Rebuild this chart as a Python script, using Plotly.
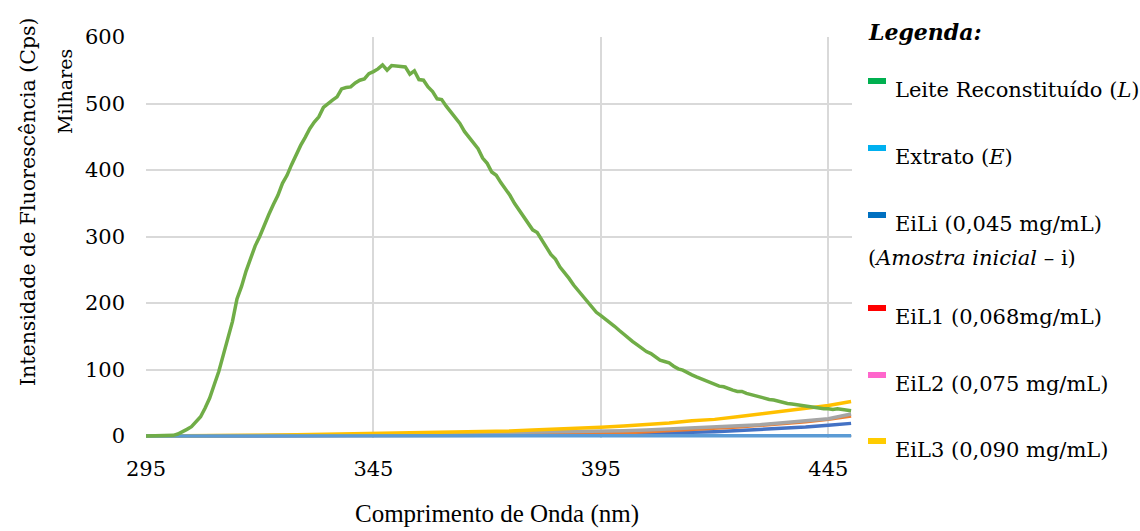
import plotly.graph_objects as go

# Emission spectra, 1 nm steps for the milk sample
wavelength_fine = list(range(295, 451))
leite = [
    0, 0, 0, 0, 0, 0, 1, 3, 6, 10,            # 295-304
    14, 21, 29, 42, 57, 77, 97, 122, 147, 172,  # 305-314
    206, 225, 248, 268, 286, 300, 318, 333, 348, 362,  # 315-324
    380, 392, 408, 424, 437, 449, 462, 472, 480, 494,  # 325-334
    500, 505, 510, 522, 524, 525, 531, 535, 537, 545,  # 335-344
    548, 552, 558, 550, 557, 556, 555, 555, 544, 549,  # 345-354
    536, 535, 525, 518, 507, 506, 496, 487, 480, 470,  # 355-364
    458, 450, 441, 432, 418, 410, 397, 392, 381, 372,  # 365-374
    362, 350, 340, 330, 318, 310, 306, 294, 284, 273,  # 375-384
    266, 254, 246, 237, 227, 219, 210, 204, 194, 186,  # 385-394
    181, 176, 170, 165, 159, 153, 147, 142, 137, 132,  # 395-404
    127, 124, 119, 114, 112, 110, 105, 101, 99, 95,    # 405-414
    92, 89, 86, 84, 80, 77, 75, 74, 71, 69,            # 415-424
    67, 67, 64, 62, 60, 58, 57, 55, 54, 52,            # 425-434
    51, 49, 48, 47, 46, 45, 44, 42, 41, 41,            # 435-444
    41, 40, 41, 40, 39, 38,                            # 445-450
]

# Extract and diluted samples, 5 nm steps
wavelength_coarse = list(range(295, 451, 5))
extrato = [0, 0, 0, 0, 0, 0, 0, 0, 0, 0, 0, 0, 0, 0, 0, 0,
           0, 0, 0, 0, 0, 0, 0, 0, 0, 0, 0, 0, 0, 0, 1, 0.5]
eili = [0, 0, 0, 0, 0.5, 0.5, 1, 1, 1, 1, 1.5, 1.5, 1.5, 1.5, 1.5, 1.5,
        1.5, 1.5, 2, 2, 2.5, 3, 3.5, 4.5, 5.5, 6.5, 8, 9.5, 11, 13.5, 16, 19]
eil1 = [0, 0, 0, 0, 0, 0, 0, 0, 0, 0, 0, 0, 0, 0, 0.5, 1,
        1.5, 2, 2.5, 3, 4, 5, 6.5, 8, 10, 11.5, 13.5, 16, 18.5, 21.5, 25, 30]
eil2 = [0, 0, 0, 0, 0.5, 0.5, 1, 1, 1, 1.5, 2, 2, 2.5, 3, 3.5, 4,
        4.5, 5, 5.5, 6.5, 7, 8, 9, 10.5, 11.5, 13, 15, 17, 20, 23, 26, 33]
eil3 = [0, 0, 0, 0.5, 1, 1, 1.5, 2, 2.5, 3, 3.5, 4, 4.5, 5, 5.5, 6.5,
        7.5, 9, 10, 11.5, 13, 15, 17, 19.5, 23, 25, 29, 33, 37, 42, 46, 52]

x_ticks = [295, 345, 395, 445]
y_ticks = [0, 100, 200, 300, 400, 500, 600]

# Drawing order: the milk spectrum ends up on top
series = [
    ("EiLi", eili, "#4472C4", wavelength_coarse),
    ("EiL1", eil1, "#ED7D31", wavelength_coarse),
    ("EiL2", eil2, "#A5A5A5", wavelength_coarse),
    ("EiL3", eil3, "#FFC000", wavelength_coarse),
    ("Extrato", extrato, "#5B9BD5", wavelength_coarse),
    ("Leite", leite, "#70AD47", wavelength_fine),
]

# Custom legend box entries (label, swatch colour, text row centre px)
legend_rows = [
    ("Leite Reconstituído (<i>L</i>)", "#00B050", 90),
    ("Extrato (<i>E</i>)", "#00B0F0", 157),
    ("EiLi (0,045 mg/mL)", "#0070C0", 224),
    ("EiL1 (0,068mg/mL)", "#FF0000", 317),
    ("EiL2 (0,075 mg/mL)", "#FF66CC", 384),
    ("EiL3 (0,090 mg/mL)", "#FFCC00", 450),
]

W, H = 1140, 531
L, R, T, B = 146, 852, 37, 438
SERIF = "DejaVu Serif"


def px(x):
    return (x - L) / (R - L)


def py(y):
    return (B - y) / (B - T)


fig = go.Figure()
for name, vals, color, xs in series:
    fig.add_trace(go.Scatter(x=xs, y=vals, mode="lines", name=name,
                             line=dict(color=color, width=3.5),
                             showlegend=False))

annotations = [
    dict(text="Intensidade de Fluorescência (Cps)", x=px(28), y=py(202),
         textangle=-90, font=dict(size=20.5), xanchor="center"),
    dict(text="Milhares", x=px(65), y=py(92), textangle=-90,
         font=dict(size=19), xanchor="center"),
    dict(text="Comprimento de Onda (nm)", x=px(497), y=py(514),
         xanchor="center", font=dict(size=25, family="Liberation Serif")),
    dict(text="<b><i>Legenda:</i></b>", x=px(866), y=py(32), xanchor="left",
         font=dict(size=22)),
    dict(text="(<i>Amostra inicial</i> – i)", x=px(866), y=py(258),
         xanchor="left", font=dict(size=21)),
]
shapes = []
for label, color, yc in legend_rows:
    annotations.append(dict(text=label, x=px(893), y=py(yc), xanchor="left",
                            font=dict(size=21)))
    shapes.append(dict(type="rect", xref="paper", yref="paper",
                       x0=px(868), x1=px(886), y0=py(yc - 6), y1=py(yc - 12),
                       fillcolor=color, line=dict(width=0)))
for a in annotations:
    a.update(xref="paper", yref="paper", showarrow=False, yanchor="middle")

fig.update_layout(
    width=W, height=H,
    margin=dict(l=L, r=W - R, t=T, b=H - B),
    paper_bgcolor="white", plot_bgcolor="white",
    font=dict(family=SERIF, color="#000000", size=18),
    annotations=annotations, shapes=shapes,
    xaxis=dict(range=[295, 450.2], tickvals=x_ticks, showgrid=True,
               gridcolor="#D9D9D9", gridwidth=1.5, zeroline=False,
               showline=False, ticks="", ticklabelstandoff=16,
               tickfont=dict(size=21)),
    yaxis=dict(range=[-3, 600], tickvals=y_ticks, showgrid=True,
               gridcolor="#D9D9D9", gridwidth=1.5, zeroline=False,
               showline=False, ticks="", ticklabelstandoff=20,
               tickfont=dict(size=21)),
)

fig.write_html("out.html")
